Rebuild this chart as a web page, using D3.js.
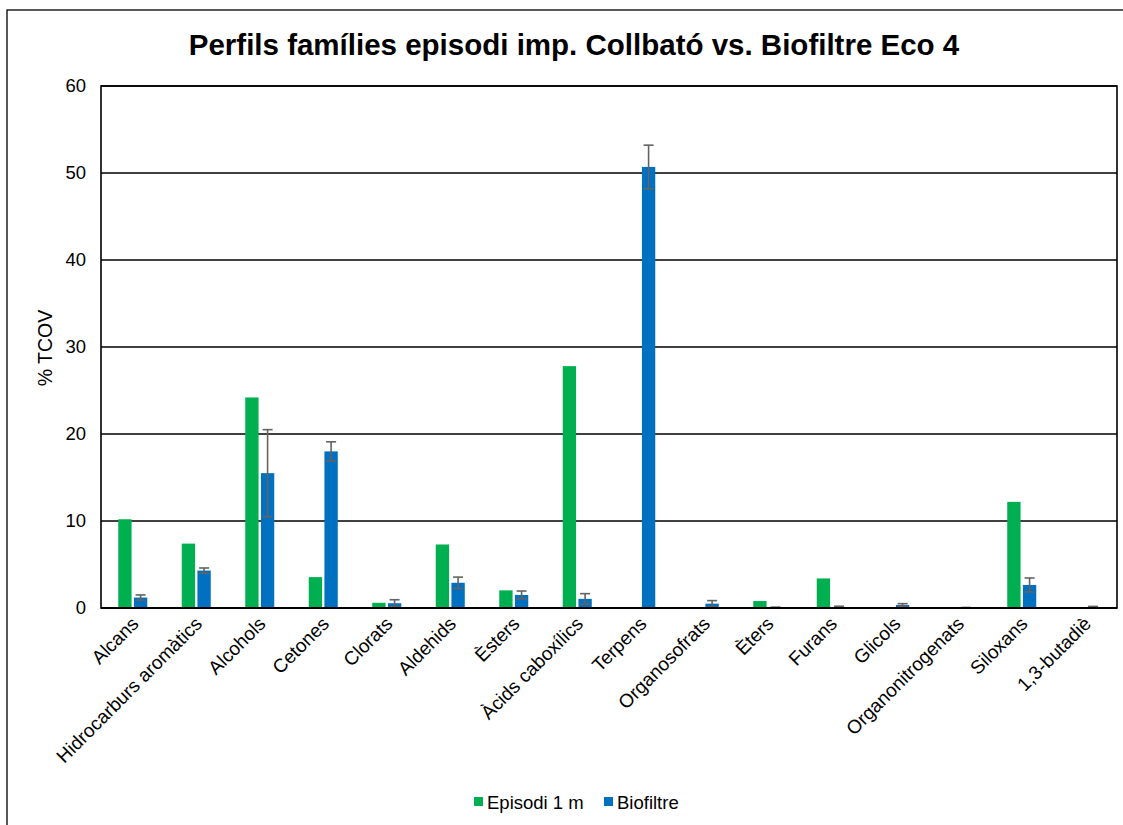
<!DOCTYPE html>
<html><head><meta charset="utf-8">
<script src="https://cdn.jsdelivr.net/npm/d3@7"></script>
<style>body{margin:0;background:#fff}svg{display:block;font-family:"Liberation Sans",Arial,sans-serif}</style>
</head><body><svg id="c" width="1123" height="825"></svg>
<script>
const categories = ["Alcans","Hidrocarburs aromàtics","Alcohols","Cetones","Clorats","Aldehids","Èsters","Àcids caboxílics","Terpens","Organosofrats","Èters","Furans","Glicols","Organonitrogenats","Siloxans","1,3-butadiè"];
const episodi = [10.2,7.4,24.2,3.55,0.6,7.3,2.03,27.8,0,0,0.8,3.4,0,0,12.2,0];
const biofiltre = [1.2,4.3,15.5,18.0,0.55,2.9,1.5,1.05,50.7,0.5,0.05,0.08,0.35,0.02,2.65,0.06];
const biofiltreErr = [0.3,0.3,5.0,1.1,0.4,0.65,0.45,0.6,2.5,0.35,0.05,0.12,0.15,0.04,0.8,0.12];
const yTicks = [0,10,20,30,40,50,60];
const seriesNames = ["Episodi 1 m","Biofiltre"];
const colors = ["#00b050","#0070c0"];

const svg = d3.select("#c");
const L=101,R=1117,T=86,B=608;
svg.append("rect").attr("x",7).attr("y",10).attr("width",1130).attr("height",830).attr("fill","none").attr("stroke","#000").attr("stroke-width",1.3);

const x = d3.scaleBand().domain(categories).range([L,R]);
const xs = d3.scaleBand().domain(seriesNames).range([0,x.bandwidth()]).paddingInner(0.15).paddingOuter(1.1);
const y = d3.scaleLinear().domain([0,60]).range([B,T]);

// gridlines
svg.append("g").selectAll("line").data(yTicks.slice(1)).join("line")
  .attr("x1",L).attr("x2",R).attr("y1",d=>Math.round(y(d))).attr("y2",d=>Math.round(y(d))).attr("stroke","#000").attr("stroke-width",1.6);

// bars
const series=[episodi,biofiltre];
series.forEach((vals,si)=>{
  svg.append("g").selectAll("rect").data(categories).join("rect")
    .attr("x",c=>x(c)+xs(seriesNames[si])).attr("width",xs.bandwidth())
    .attr("y",(c,i)=>y(vals[i])).attr("height",(c,i)=>B-y(vals[i]))
    .attr("fill",colors[si]);
});
// error bars
const eg=svg.append("g").attr("stroke","#636363").attr("stroke-width",1.6);
categories.forEach((c,i)=>{
  const cx=x(c)+xs("Biofiltre")+xs.bandwidth()/2;
  const v=biofiltre[i], e=biofiltreErr[i];
  const y1=y(v+e), y2=y(Math.max(0,v-e));
  eg.append("line").attr("x1",cx).attr("x2",cx).attr("y1",y1).attr("y2",y2);
  eg.append("line").attr("x1",cx-5).attr("x2",cx+5).attr("y1",y1).attr("y2",y1);
  eg.append("line").attr("x1",cx-5).attr("x2",cx+5).attr("y1",y2).attr("y2",y2);
});

// plot border
svg.append("rect").attr("x",L).attr("y",T).attr("width",R-L).attr("height",B-T).attr("fill","none").attr("stroke","#000").attr("stroke-width",1.6);
svg.append("line").attr("x1",L).attr("x2",R).attr("y1",B).attr("y2",B).attr("stroke","#000").attr("stroke-width",2.2);

// y axis labels
const ya=svg.append("g").attr("transform",`translate(${L},0)`).call(d3.axisLeft(y).tickValues(yTicks).tickSize(0).tickPadding(15));
ya.select(".domain").remove();
ya.selectAll("text").attr("font-size",18.5).attr("font-family","Liberation Sans, Arial, sans-serif").attr("fill","#000");

// x axis labels
const xa=svg.append("g").attr("transform",`translate(0,${B})`).call(d3.axisBottom(x).tickSize(0).tickPadding(0));
xa.select(".domain").remove();
xa.selectAll("text").attr("font-size",19).attr("font-family","Liberation Sans, Arial, sans-serif").attr("fill","#000")
  .attr("text-anchor","end").attr("dy",0).attr("transform","translate(7,17) rotate(-45)");

// titles
svg.append("text").attr("x",574).attr("y",55).attr("text-anchor","middle").attr("font-size",29.5).attr("font-weight","bold").text("Perfils famílies episodi imp. Collbató vs. Biofiltre Eco 4");
svg.append("text").attr("transform","translate(52,348) rotate(-90)").attr("text-anchor","middle").attr("font-size",19.5).text("% TCOV");

// legend
const leg=[{n:seriesNames[0],x:474},{n:seriesNames[1],x:604}];
leg.forEach((d,i)=>{
  svg.append("rect").attr("x",d.x).attr("y",797).attr("width",9).attr("height",9).attr("fill",colors[i]);
  svg.append("text").attr("x",d.x+13).attr("y",809).attr("font-size",18.5).text(d.n);
});
</script></body></html>
